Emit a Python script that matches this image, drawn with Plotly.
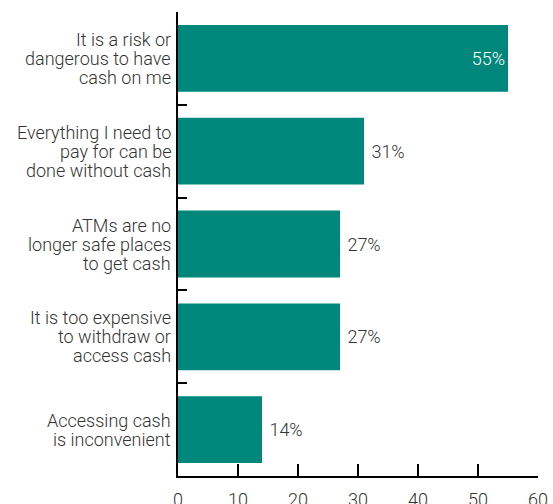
import plotly.graph_objects as go

categories = [
    "It is a risk or<br>dangerous to have<br>cash on me",
    "Everything I need to<br>pay for can be<br>done without cash",
    "ATMs are no<br>longer safe places<br>to get cash",
    "It is too expensive<br>to withdraw or<br>access cash",
    "Accessing cash<br>is inconvenient",
]
values = [55, 31, 27, 27, 14]
value_labels = ["55%", "31%", "27%", "27%", "14%"]
text_positions = ["inside", "outside", "outside", "outside", "outside"]
x_ticks = [0, 10, 20, 30, 40, 50, 60]

FONT = "Roboto"
WEIGHT = 300
TEXT_COLOR = "#333333"
BAR_COLOR = "#00877b"

templates = ["%{text}" if p == "inside" else " %{text}" for p in text_positions]

fig = go.Figure(
    go.Bar(
        x=values,
        y=categories,
        orientation="h",
        marker=dict(color=BAR_COLOR, line=dict(width=0)),
        text=value_labels,
        texttemplate=templates,
        textposition=text_positions,
        insidetextanchor="end",
        insidetextfont=dict(color="white", size=18, family=FONT, weight=WEIGHT),
        outsidetextfont=dict(color=TEXT_COLOR, size=18, family=FONT, weight=WEIGHT),
        constraintext="none",
        cliponaxis=False,
        hoverinfo="skip",
    )
)

annotations = []
line_h = 19
for cat in categories:
    lines = cat.split("<br>")
    n = len(lines)
    for i, ln in enumerate(lines):
        annotations.append(
            dict(
                x=0, xref="x", y=cat, yref="y",
                xanchor="right", yanchor="middle",
                xshift=-5, yshift=((n - 1) / 2 - i) * line_h,
                text=ln, showarrow=False,
                font=dict(size=18, color=TEXT_COLOR, family=FONT, weight=WEIGHT),
            )
        )

fig.update_layout(
    width=553,
    height=504,
    margin=dict(l=178, r=15, t=12, b=28),
    plot_bgcolor="white",
    paper_bgcolor="white",
    bargap=0.28,
    showlegend=False,
    annotations=annotations,
    font=dict(family=FONT, size=18, color=TEXT_COLOR, weight=WEIGHT),
    xaxis=dict(
        range=[0, 60],
        tickvals=x_ticks,
        ticks="inside",
        ticklen=12,
        tickwidth=2,
        tickcolor="black",
        showline=True,
        linecolor="black",
        linewidth=2,
        showgrid=False,
        zeroline=False,
        automargin=False,
        ticklabelstandoff=6,
        tickfont=dict(size=18, color=TEXT_COLOR, family=FONT, weight=WEIGHT),
    ),
    yaxis=dict(
        type="category",
        autorange="reversed",
        showticklabels=False,
        tickson="boundaries",
        ticks="inside",
        ticklen=9,
        tickwidth=2,
        tickcolor="black",
        showline=True,
        linecolor="black",
        linewidth=2,
        showgrid=False,
        zeroline=False,
        automargin=False,
    ),
)

fig.write_html("out.html")
